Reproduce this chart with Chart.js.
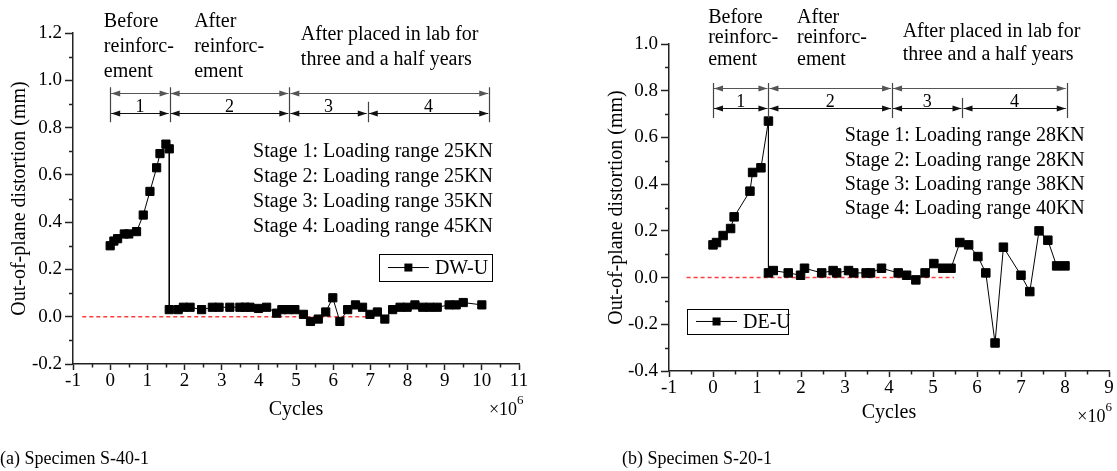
<!DOCTYPE html>
<html><head><meta charset="utf-8">
<script src="https://cdn.jsdelivr.net/npm/chart.js@4.4.1/dist/chart.umd.min.js"></script>
<style>
html,body{margin:0;padding:0;background:#fff;width:1117px;height:471px;overflow:hidden}
#wa{position:absolute;left:0;top:0;width:560px;height:471px}
#wb{position:absolute;left:560px;top:0;width:557px;height:471px}
</style></head><body>
<div id="wa"><canvas id="ca"></canvas></div>
<div id="wb"><canvas id="cb"></canvas></div>
<script>
const FONT = "'Liberation Serif','Times New Roman',Times,serif";

// ---- Specimen S-40-1 (DW-U) ----
const cyclesA = [0, 0.1, 0.2, 0.38, 0.5, 0.71, 0.89, 1.07, 1.25, 1.34, 1.5, 1.59,
  1.59, 1.83, 1.97, 2.15, 2.46, 2.75, 2.93, 3.22, 3.49, 3.63,
  3.76, 3.99, 4.21, 4.48, 4.62, 4.79, 4.97, 5.2, 5.39, 5.6,
  5.8, 5.99, 6.18, 6.39, 6.6, 6.79, 6.99, 7.19, 7.39, 7.6,
  7.8, 7.99, 8.2, 8.41, 8.6, 8.8, 9.12, 9.31, 9.5, 10.0];
const distA = [0.30, 0.32, 0.33, 0.35, 0.35, 0.36, 0.43, 0.53, 0.63, 0.69, 0.73, 0.71,
  0.03, 0.03, 0.04, 0.04, 0.03, 0.04, 0.04, 0.04, 0.04, 0.04,
  0.04, 0.035, 0.04, 0.015, 0.03, 0.03, 0.03, 0.01, -0.02, -0.01,
  0.02, 0.08, -0.02, 0.03, 0.05, 0.04, 0.01, 0.02, -0.01, 0.03,
  0.04, 0.04, 0.05, 0.04, 0.04, 0.04, 0.05, 0.05, 0.06, 0.05];
const nameA = 'DW-U';
const captionA = '(a) Specimen S-40-1';
const loadsA = ['25KN', '25KN', '35KN', '45KN'];
const stageBoundsA = [0, 1.6, 4.82, 6.93, 10.2];
const refLineA = [-0.75, 6.9];

// ---- Specimen S-20-1 (DE-U) ----
const cyclesB = [0, 0.08, 0.23, 0.4, 0.48, 0.84, 0.9, 1.09, 1.26,
  1.26, 1.37, 1.71, 1.99, 2.08, 2.47, 2.73, 2.81, 3.08, 3.2,
  3.48, 3.58, 3.83, 4.21, 4.4, 4.61, 4.82, 5.02, 5.22, 5.41,
  5.61, 5.81, 6.02, 6.2, 6.41, 6.6, 7.0, 7.2, 7.41, 7.61,
  7.81, 8.0];
const distB = [0.14, 0.15, 0.18, 0.21, 0.26, 0.37, 0.45, 0.47, 0.67,
  0.02, 0.03, 0.02, 0.01, 0.04, 0.02, 0.03, 0.02, 0.03, 0.02,
  0.02, 0.02, 0.04, 0.02, 0.01, -0.01, 0.02, 0.06, 0.04, 0.04,
  0.15, 0.14, 0.09, 0.02, -0.28, 0.13, 0.01, -0.06, 0.20, 0.16,
  0.05, 0.05];
const nameB = 'DE-U';
const captionB = '(b) Specimen S-20-1';
const loadsB = ['28KN', '28KN', '38KN', '40KN'];
const stageBoundsB = [0, 1.26, 4.07, 5.67, 8.04];
const refLineB = [-0.6, 5.48];

const textBefore = ['Before', 'reinforc-', 'ement'];
const textAfter = ['After', 'reinforc-', 'ement'];
const textLab = ['After placed in lab for', 'three and a half years'];
const xTitle = 'Cycles';
const yTitle = 'Out-of-plane distortion (mm)';

const annotPlugin = {
  id: 'annot',
  afterDraw(chart, args, o) {
    const ctx = chart.ctx, xs = chart.scales.x, ys = chart.scales.y, ca = chart.chartArea;
    const X = v => xs.getPixelForValue(v), Y = v => ys.getPixelForValue(v);
    ctx.save();
    // minor ticks
    ctx.strokeStyle = '#222'; ctx.lineWidth = 1.5;
    ctx.beginPath();
    for (let v = ys.min + o.yStep / 2; v < ys.max; v += o.yStep) {
      const p = Math.round(Y(v)) + 0.5;
      ctx.moveTo(ca.left - 4, p); ctx.lineTo(ca.left, p);
    }
    for (let v = xs.min + 0.5; v < xs.max; v += 1) {
      const p = Math.round(X(v)) + 0.5;
      ctx.moveTo(p, ca.bottom); ctx.lineTo(p, ca.bottom + 3.5);
    }
    ctx.stroke();

    // dimension lines
    const b = o.bounds;
    const arrow = (tx, ty, dir) => {
      ctx.beginPath();
      ctx.moveTo(tx, ty);
      ctx.lineTo(tx + dir * 9, ty - 3);
      ctx.lineTo(tx + dir * 9, ty + 3);
      ctx.closePath(); ctx.fill();
    };
    const seg = (x1, x2, y, col) => {
      const p1 = X(x1), p2 = X(x2), py = Math.round(Y(y)) + 0.5;
      ctx.strokeStyle = col; ctx.fillStyle = col; ctx.lineWidth = 1.2;
      ctx.beginPath(); ctx.moveTo(p1 + 1, py); ctx.lineTo(p2 - 1, py); ctx.stroke();
      arrow(p1 + 1, py, 1); arrow(p2 - 1, py, -1);
    };
    seg(b[0], b[1], o.dimTop, '#555');
    seg(b[1], b[2], o.dimTop, '#555');
    seg(b[2], b[4], o.dimTop, '#555');
    for (let i = 0; i < 4; i++) seg(b[i], b[i + 1], o.dimBot, '#111');
    ctx.strokeStyle = '#444'; ctx.lineWidth = 1.2;
    ctx.beginPath();
    [b[0], b[1], b[2], b[4]].forEach(v => {
      const p = Math.round(X(v)) + 0.5;
      ctx.moveTo(p, Y(o.tickHi)); ctx.lineTo(p, Y(o.tickLo));
    });
    const ps = Math.round(X(b[3])) + 0.5;
    ctx.moveTo(ps, Y(o.shortHi)); ctx.lineTo(ps, Y(o.tickLo));
    ctx.stroke();
    ctx.fillStyle = '#000';
    ctx.font = `18px ${FONT}`; ctx.textAlign = 'center'; ctx.textBaseline = 'alphabetic';
    for (let i = 0; i < 4; i++) ctx.fillText(String(i + 1), (X(b[i]) + X(b[i + 1])) / 2, Y(o.dimBot) - 1);

    // text blocks
    ctx.font = `20px ${FONT}`; ctx.textBaseline = 'middle'; ctx.textAlign = 'left';
    o.blocks.forEach(bl => bl.lines.forEach((t, i) => ctx.fillText(t, X(bl.x), Y(bl.ys[i]))));
    ctx.textAlign = 'right';
    o.loads.forEach((l, i) => ctx.fillText(`Stage ${i + 1}: Loading range ${l}`, X(o.stageX), Y(o.stageYs[i])));

    // legend
    const lx1 = X(o.leg[0]), lx2 = X(o.leg[1]), ly1 = Y(o.leg[2]), ly2 = Y(o.leg[3]);
    ctx.strokeStyle = '#000'; ctx.lineWidth = 1;
    ctx.strokeRect(Math.round(lx1) + 0.5, Math.round(ly1) + 0.5, Math.round(lx2 - lx1), Math.round(ly2 - ly1));
    const lmy = (ly1 + ly2) / 2;
    ctx.beginPath(); ctx.moveTo(lx1 + 9, lmy); ctx.lineTo(lx1 + 50, lmy); ctx.stroke();
    ctx.fillRect(lx1 + 29.5 - 4, lmy - 4, 8, 8);
    ctx.textAlign = 'left';
    ctx.fillText(o.name, lx1 + 56, lmy + 1);

    // x10^6
    ctx.font = `18px ${FONT}`;
    ctx.fillText('\u00d710', X(o.mult[0]), Y(o.mult[1]));
    const w = ctx.measureText('\u00d710').width;
    ctx.font = `13px ${FONT}`;
    ctx.fillText('6', X(o.mult[0]) + w, Y(o.mult[1]) - 9);

    // caption
    ctx.font = `18px ${FONT}`;
    ctx.fillText(o.caption, o.capX, chart.height - 12);
    ctx.restore();
  }
};

function makeChart(id, c) {
  return new Chart(document.getElementById(id), {
    type: 'scatter',
    data: {
      datasets: [
        { label: c.name, data: c.xs.map((x, i) => ({ x, y: c.ys[i] })), showLine: true,
          borderColor: '#000', borderWidth: 1, pointStyle: 'rect', pointRadius: c.pr,
          pointBackgroundColor: '#000', pointBorderColor: '#000', pointBorderWidth: 1,
          tension: 0, order: 1 },
        { label: 'zero', data: [{ x: c.ref[0], y: 0 }, { x: c.ref[1], y: 0 }], showLine: true,
          borderColor: '#ff3b3b', borderWidth: 1.5, borderDash: [4, 3], pointRadius: 0, order: 2 }
      ]
    },
    options: {
      responsive: true, maintainAspectRatio: false, animation: false,
      layout: { padding: { left: c.padL, top: c.padT, right: c.padR, bottom: c.padB } },
      plugins: { legend: { display: false }, tooltip: { enabled: false }, annot: c.annot },
      scales: {
        x: {
          type: 'linear', min: c.xMin, max: c.xMax,
          afterFit: s => { s.height = c.xH; },
          ticks: { stepSize: 1, autoSkip: false, maxRotation: 0, color: '#000', padding: 2,
            font: { family: FONT, size: 19, lineHeight: 1 }, callback: v => String(v) },
          grid: { drawOnChartArea: false, drawTicks: true, tickLength: 6, tickColor: '#222', tickWidth: 1.5 },
          border: { display: true, color: '#222', width: 1.5 },
          title: { display: true, text: xTitle, color: '#000', padding: 0, font: { family: FONT, size: 20 } }
        },
        y: {
          type: 'linear', min: c.yMin, max: c.yMax,
          afterFit: s => { s.width = c.yW; },
          ticks: { stepSize: 0.2, color: '#000', padding: 3,
            font: { family: FONT, size: 19, lineHeight: 1 }, callback: v => (Math.abs(v) < 1e-9 ? 0 : v).toFixed(1) },
          grid: { drawOnChartArea: false, drawTicks: true, tickLength: 8, tickColor: '#222', tickWidth: 1.5 },
          border: { display: true, color: '#222', width: 1.5 },
          title: { display: true, text: yTitle, color: '#000', padding: 0, font: { family: FONT, size: 20 } }
        }
      }
    },
    plugins: [annotPlugin]
  });
}

makeChart('ca', {
  name: nameA, xs: cyclesA, ys: distA, ref: refLineA, pr: 5.8,
  xMin: -1, xMax: 11, yMin: -0.2, yMax: 1.2,
  padL: 8, yW: 65, padT: 33, padR: 41, xH: 58, padB: 49,
  annot: {
    yStep: 0.2, bounds: stageBoundsA, dimTop: 0.946, dimBot: 0.861, tickHi: 0.971, tickLo: 0.823, shortHi: 0.909,
    blocks: [
      { x: -0.17, ys: [1.247, 1.142, 1.036], lines: textBefore },
      { x: 2.26, ys: [1.247, 1.142, 1.036], lines: textAfter },
      { x: 5.13, ys: [1.191, 1.085], lines: textLab }
    ],
    loads: loadsA, stageX: 10.3, stageYs: [0.696, 0.591, 0.485, 0.379],
    leg: [7.23, 10.27, 0.265, 0.151], name: nameA,
    mult: [10.19, -0.394], caption: captionA, capX: 0
  }
});

makeChart('cb', {
  name: nameB, xs: cyclesB, ys: distB, ref: refLineB, pr: 6,
  xMin: -1, xMax: 9, yMin: -0.4, yMax: 1.0,
  padL: 45, yW: 64, padT: 44, padR: 8, xH: 54, padB: 46,
  annot: {
    yStep: 0.2, bounds: stageBoundsB, dimTop: 0.812, dimBot: 0.726, tickHi: 0.833, tickLo: 0.683, shortHi: 0.769,
    blocks: [
      { x: -0.11, ys: [1.112, 1.026, 0.932], lines: textBefore },
      { x: 1.91, ys: [1.112, 1.026, 0.932], lines: textAfter },
      { x: 4.31, ys: [1.052, 0.953], lines: textLab }
    ],
    loads: loadsB, stageX: 8.45, stageYs: [0.606, 0.499, 0.397, 0.294],
    leg: [-0.59, 1.70, -0.134, -0.242], name: nameB,
    mult: [8.28, -0.597], caption: captionB, capX: 62
  }
});
</script>
</body></html>
